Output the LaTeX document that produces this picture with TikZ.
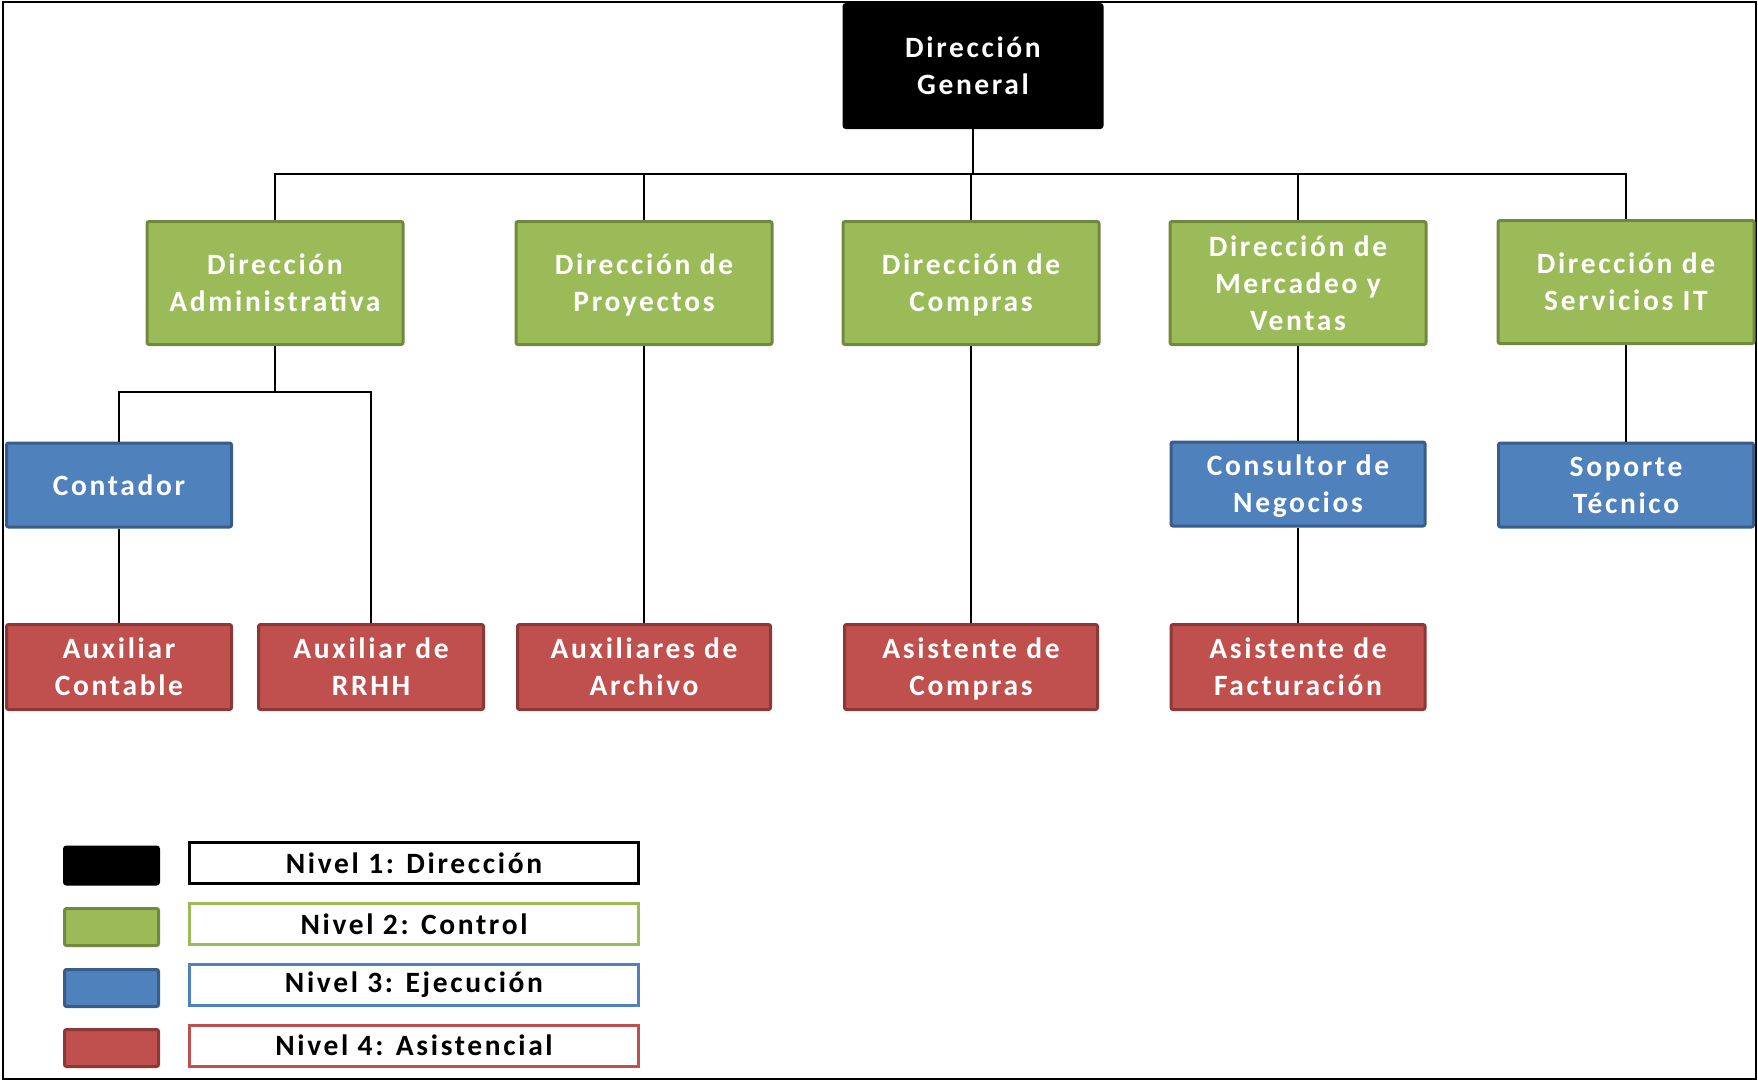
\documentclass[tikz,border=0pt]{standalone}
\usepackage{fontspec}
\setmainfont{Carlito}
\newfontfamily\wide[LetterSpace=9]{Carlito}
\newcommand\nodepth[1]{\raisebox{0pt}[\height][0pt]{#1}}
\definecolor{gfill}{HTML}{9BBB59}
\definecolor{gline}{HTML}{71893F}
\definecolor{bfill}{HTML}{4F81BD}
\definecolor{bline}{HTML}{385D8A}
\definecolor{rfill}{HTML}{C0504D}
\definecolor{rline}{HTML}{8C3836}
\begin{document}
\begin{tikzpicture}[x=1pt,y=-1pt,
  box/.style={rectangle, rounded corners=2pt, line width=3pt, inner sep=0pt, align=center,
    text=white, font=\wide\fontsize{29.5}{37}\selectfont\bfseries},
  lvone/.style={box, fill=black, draw=black, minimum width=258pt, minimum height=123pt},
  lvtwo/.style={box, fill=gfill, draw=gline, minimum width=256pt, minimum height=123pt},
  lvthree/.style={box, fill=bfill, draw=bline, minimum height=84pt},
  lvfour/.style={box, fill=rfill, draw=rline, minimum height=85pt},
  swatch/.style={rectangle, rounded corners=2pt, line width=3pt, minimum width=94pt, minimum height=37pt, inner sep=0pt},
  legbox/.style={rectangle, line width=3pt, fill=white, minimum width=449pt, minimum height=41pt, inner sep=0pt,
    font=\wide\fontsize{29.5}{34}\selectfont\bfseries, text=black},
  conn/.style={line width=1.4pt, black}]
\useasboundingbox (0,0) rectangle (1758,1082);
\draw[line width=2pt] (3,2) rectangle (1756,1079);

% Level 1
\node[lvone] (dg) at (973,66) {Dirección\\General};
% Level 2
\node[lvtwo] (admin) at (275,283) {Dirección\\Administrativa};
\node[lvtwo] (proy) at (644,283) {Dirección de\\\nodepth{Proyectos}};
\node[lvtwo] (comp) at (971,283) {Dirección de\\\nodepth{Compras}};
\node[lvtwo] (merc) at (1298,283) {Dirección de\\Mercadeo y\\Ventas};
\node[lvtwo] (serv) at (1626,282) {Dirección de\\Servicios IT};
% Level 3
\node[lvthree, minimum width=225pt] (cont) at (119,485) {Contador};
\node[lvthree, minimum width=254pt] (cons) at (1298,484) {Consultor de\\\nodepth{Negocios}};
\node[lvthree, minimum width=255pt] (sop) at (1626,485) {Soporte\\Técnico};
% Level 4
\node[lvfour, minimum width=225pt] (auxc) at (119,667) {Auxiliar\\Contable};
\node[lvfour, minimum width=225pt] (rrhh) at (371,667) {Auxiliar de\\RRHH};
\node[lvfour, minimum width=253pt] (arch) at (644,667) {Auxiliares de\\Archivo};
\node[lvfour, minimum width=253pt] (asco) at (971,667) {Asistente de\\\nodepth{Compras}};
\node[lvfour, minimum width=254pt] (fact) at (1298,667) {Asistente de\\\nodepth{Facturación}};

% Connectors
\coordinate (bus) at (973,174);
\coordinate (subbus) at (275,392);
\draw[conn] (dg.south) -- (dg.south |- bus);
\draw[conn] (admin.north) -- (admin.north |- bus) -- (serv.north |- bus) -- (serv.north);
\draw[conn] (proy.north) -- (proy.north |- bus);
\draw[conn] (comp.north) -- (comp.north |- bus);
\draw[conn] (merc.north) -- (merc.north |- bus);
\draw[conn] (admin.south) -- (subbus);
\draw[conn] (cont.north) -- (cont.north |- subbus) -- (rrhh.north |- subbus) -- (rrhh.north);
\draw[conn] (cont.south) -- (auxc.north);
\draw[conn] (proy.south) -- (arch.north);
\draw[conn] (comp.south) -- (asco.north);
\draw[conn] (merc.south) -- (cons.north);
\draw[conn] (cons.south) -- (fact.north);
\draw[conn] (serv.south) -- (sop.north);

% Legend
\node[swatch, fill=black, draw=black] (s1) at (111.5,865.5) {};
\node[swatch, fill=gfill, draw=gline] (s2) at (111.5,927) {};
\node[swatch, fill=bfill, draw=bline] (s3) at (111.5,988) {};
\node[swatch, fill=rfill, draw=rline] (s4) at (111.5,1048) {};
\node[legbox, draw=black] (l1) at (414,863) {Nivel 1: Dirección};
\node[legbox, draw=gfill] (l2) at (414,924) {Nivel 2: Control};
\node[legbox, draw=bfill] (l3) at (414,985) {Nivel 3: Ejecución};
\node[legbox, draw=rfill] (l4) at (414,1045.5) {Nivel 4: Asistencial};
\end{tikzpicture}
\end{document}
